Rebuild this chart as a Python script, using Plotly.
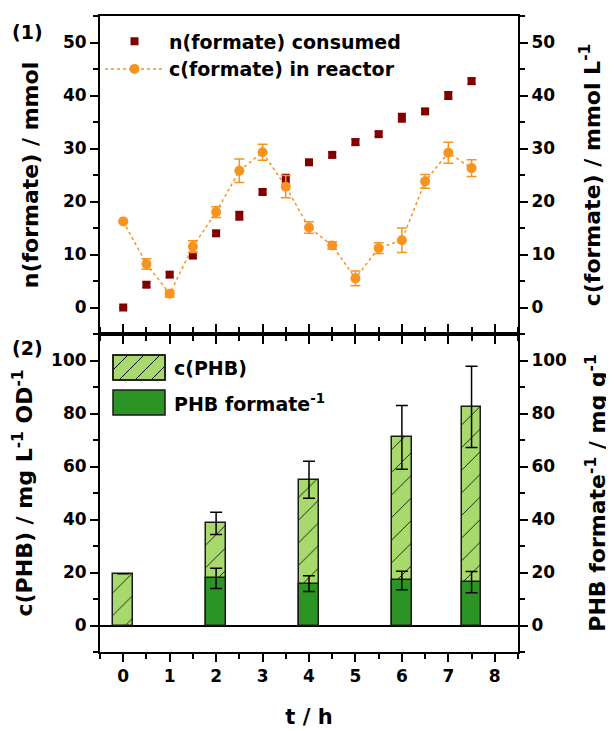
import plotly.graph_objects as go

# ---------------- data ----------------
t_formate = [0, 0.5, 1, 1.5, 2, 2.5, 3, 3.5, 4, 4.5, 5, 5.5, 6, 6.5, 7, 7.5]
n_consumed = [0.0, 4.3, 6.2, 9.8, 14.0, 17.3, 21.8, 24.2, 27.4, 28.8, 31.2, 32.7, 35.8, 37.0, 40.0, 42.7]
n_consumed_err = [0.0, 0.5, 0.5, 0.5, 0.5, 0.8, 0.5, 0.9, 0.5, 0.5, 0.6, 0.5, 0.8, 0.5, 0.7, 0.6]
c_reactor = [16.25, 8.2, 2.6, 11.5, 18.0, 25.8, 29.3, 22.8, 15.1, 11.7, 5.5, 11.2, 12.7, 23.8, 29.2, 26.3]
c_reactor_err = [0.0, 1.0, 0.6, 1.1, 1.0, 2.2, 1.5, 2.1, 1.1, 0.7, 1.4, 1.0, 2.3, 1.3, 2.0, 1.6]

t_phb = [0, 2, 4, 6, 7.5]
c_phb = [19.5, 38.5, 55.0, 71.0, 82.5]
c_phb_err = [0.0, 4.2, 7.0, 12.0, 15.3]
t_yield = [2, 4, 6, 7.5]
phb_per_formate = [17.8, 15.8, 17.0, 16.4]
phb_per_formate_err = [3.8, 3.0, 3.5, 4.0]

x_ticks = [0, 1, 2, 3, 4, 5, 6, 7, 8]
top_ticks = [0, 10, 20, 30, 40, 50]
bottom_ticks = [0, 20, 40, 60, 80, 100]

DARKRED = "#800000"
ORANGE = "#f7931e"
LIGHTGREEN = "#a8d96c"
DARKGREEN = "#2c9424"
OUTLINE = "#1a1a1a"
FONT = "DejaVu Sans"

W, H = 614, 731
ML, MR, MT, MB = 92, 104, 8, 87
pw, ph_total = W - ML - MR, H - MT - MB
ph = ph_total / 2.0

fig = go.Figure()

fig.add_trace(go.Scatter(
    x=t_formate, y=n_consumed, mode="markers", name="<b>n(formate) consumed</b>",
    marker=dict(symbol="square", size=8, color=DARKRED),
    error_y=dict(type="data", array=n_consumed_err, color=DARKRED, thickness=1.5, width=4),
    xaxis="x", yaxis="y", legend="legend"))

fig.add_trace(go.Scatter(
    x=t_formate, y=c_reactor, mode="lines+markers", name="<b>c(formate) in reactor</b>",
    line=dict(color=ORANGE, width=1.5, dash="dot"),
    marker=dict(symbol="circle", size=10, color=ORANGE),
    error_y=dict(type="data", array=c_reactor_err, color=ORANGE, thickness=1.5, width=5),
    xaxis="x", yaxis="y2", legend="legend"))

fig.add_trace(go.Bar(
    x=t_phb, y=c_phb, name="c(PHB)", width=0.42, showlegend=False,
    marker=dict(color=LIGHTGREEN, line=dict(color=OUTLINE, width=1.5),
                pattern=dict(shape="/", fgcolor="black", bgcolor=LIGHTGREEN, size=16,
                             solidity=0.05, fgopacity=1)),
    error_y=dict(type="data", array=c_phb_err, color="black", thickness=1.5, width=6),
    xaxis="x2", yaxis="y3"))

fig.add_trace(go.Bar(
    x=t_yield, y=phb_per_formate, name="PHB formate<sup>-1</sup>", width=0.42, showlegend=False,
    marker=dict(color=DARKGREEN, line=dict(color=OUTLINE, width=1.5)),
    error_y=dict(type="data", array=phb_per_formate_err, color="black", thickness=1.5, width=6),
    xaxis="x2", yaxis="y4"))

tickfont = dict(family=FONT, size=17, color="black", weight="bold")
titlefont = dict(family=FONT, size=22, color="black", weight="bold")

top_dom = [0.5, 1.0]
bot_dom = [0.0, 0.5]

common_x = dict(range=[-0.5, 8.5], domain=[0, 1], showline=True, linecolor="black", linewidth=2,
                showgrid=False, zeroline=False, tickvals=x_ticks, automargin=False,
                ticks="outside", ticklen=8, tickwidth=1.5, tickcolor="black",
                minor=dict(dtick=0.5, tick0=0, ticklen=5, tickwidth=1.5, tickcolor="black", ticks="outside"))


def yax(dom, rng, tv, minor_dt, side, title, standoff, anchor, overlay=None, zero=False):
    d = dict(domain=dom, range=rng, anchor=anchor, side=side, showline=True, linecolor="black",
             linewidth=2, showgrid=False, zeroline=zero, zerolinecolor="black", zerolinewidth=2,
             tickvals=tv, ticks="outside", ticklen=8, tickwidth=1.5, tickcolor="black",
             tickfont=tickfont, automargin=False,
             minor=dict(dtick=minor_dt, tick0=0, ticklen=5, tickwidth=1.5, tickcolor="black", ticks="outside"),
             title=dict(text=title, font=titlefont, standoff=standoff))
    if overlay:
        d["overlaying"] = overlay
    return d


# ---- custom legend for the bar panel (large keys as in the original) ----
def dx(px):  # pixel offset inside plot -> domain fraction (x2)
    return px / pw
def dy(py):  # pixel offset from top of bottom panel -> domain fraction (y3)
    return 1 - py / ph

key_x0, key_x1 = 13, 65
key1 = (21, 46)
key2 = (56, 81)
shapes = []
shapes.append(dict(type="rect", xref="x2 domain", yref="y3 domain",
                   x0=dx(key_x0), x1=dx(key_x1), y0=dy(key1[1]), y1=dy(key1[0]),
                   fillcolor=LIGHTGREEN, line=dict(color=OUTLINE, width=1.5), layer="above"))
kh = key1[1] - key1[0]
for off in [-10, 6, 22, 38]:
    xa, ya = key_x0 + off, key1[1]
    xb, yb = xa + kh, key1[0]
    if xa < key_x0:
        ya = key1[1] - (key_x0 - xa); xa = key_x0
    if xb > key_x1:
        yb = key1[0] + (xb - key_x1); xb = key_x1
    shapes.append(dict(type="line", xref="x2 domain", yref="y3 domain",
                       x0=dx(xa), y0=dy(ya), x1=dx(xb), y1=dy(yb),
                       line=dict(color="black", width=1), layer="above"))
shapes.append(dict(type="rect", xref="x2 domain", yref="y3 domain",
                   x0=dx(key_x0), x1=dx(key_x1), y0=dy(key1[1]), y1=dy(key1[0]),
                   fillcolor="rgba(0,0,0,0)", line=dict(color=OUTLINE, width=1.5), layer="above"))
shapes.append(dict(type="rect", xref="x2 domain", yref="y3 domain",
                   x0=dx(key_x0), x1=dx(key_x1), y0=dy(key2[1]), y1=dy(key2[0]),
                   fillcolor=DARKGREEN, line=dict(color=OUTLINE, width=1.5), layer="above"))


def paper_xy(fx, fy):  # figure pixel -> paper coords
    return (fx - ML) / pw, (H - MB - fy) / ph_total


legfont = dict(family=FONT, size=19, color="black", weight="bold")
p1 = paper_xy(19, 24)
p2 = paper_xy(19, 340)
annotations = [
    dict(text="<b>(1)</b>", x=p1[0], y=p1[1], xref="paper", yref="paper", showarrow=False,
         xanchor="center", yanchor="middle", font=dict(family=FONT, size=19, color="black")),
    dict(text="<b>(2)</b>", x=p2[0], y=p2[1], xref="paper", yref="paper", showarrow=False,
         xanchor="center", yanchor="middle", font=dict(family=FONT, size=19, color="black")),
    dict(text="c(PHB)", xref="x2 domain", yref="y3 domain", x=dx(72), y=dy(sum(key1) / 2),
         xanchor="left", yanchor="middle", showarrow=False, font=legfont),
    dict(text="PHB formate<sup>-1</sup>", xref="x2 domain", yref="y3 domain", x=dx(72),
         y=dy(sum(key2) / 2), xanchor="left", yanchor="middle", showarrow=False, font=legfont),
]

fig.update_layout(
    width=W, height=H, paper_bgcolor="white", plot_bgcolor="white",
    margin=dict(l=ML, r=MR, t=MT, b=MB), barmode="overlay", bargap=0,
    font=dict(family=FONT, color="black"),
    xaxis=dict(common_x, anchor="y", mirror=True, showticklabels=False),
    xaxis2=dict(common_x, anchor="y3", mirror="ticks", tickfont=tickfont,
                title=dict(text="<b>t / h</b>", font=dict(family=FONT, size=21, color="black"), standoff=24)),
    yaxis=yax(top_dom, [-5, 55], top_ticks, 5, "left", "<b>n(formate) / mmol</b>", 18, "x"),
    yaxis2=yax(top_dom, [-5, 55], top_ticks, 5, "right", "<b>c(formate) / mmol L<sup>-1</sup></b>", 30, "x", "y"),
    yaxis3=yax(bot_dom, [-10, 110], bottom_ticks, 10, "left",
               "<b>c(PHB) / mg L<sup>-1</sup> OD<sup>-1</sup></b>", 12, "x2", zero=True),
    yaxis4=yax(bot_dom, [-10, 110], bottom_ticks, 10, "right",
               "<b>PHB formate<sup>-1</sup> / mg g<sup>-1</sup></b>", 24, "x2", "y3"),
    legend=dict(x=0.0, y=0.99, xanchor="left", yanchor="top", bgcolor="rgba(0,0,0,0)",
                font=legfont, tracegroupgap=0, itemwidth=59),
    shapes=shapes,
    annotations=annotations,
)

fig.write_html("out.html")
